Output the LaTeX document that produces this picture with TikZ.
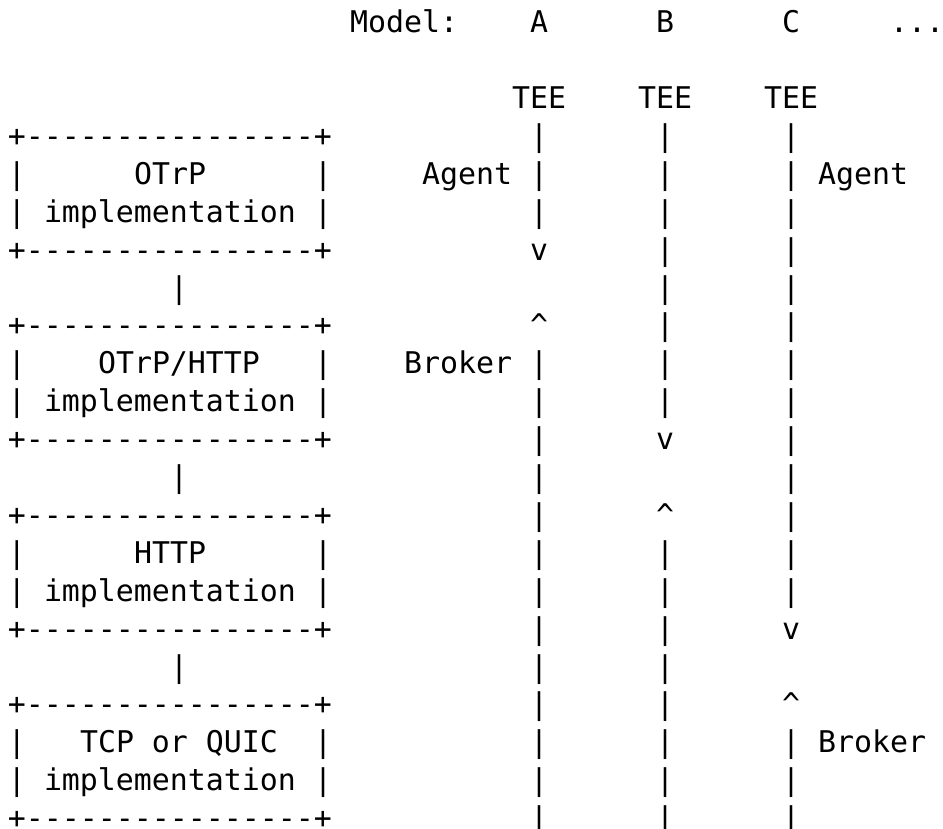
\documentclass[tikz,border=0pt]{standalone}
\usepackage{fontspec}
\setmonofont{DejaVu Sans Mono}
\newcommand\asciifont{\ttfamily\fontsize{29.9pt}{37.9pt}\selectfont}
\tikzset{
  cell/.style={anchor=base west, inner sep=0pt, outer sep=0pt, font=\asciifont, text=black},
}
% place text chunk: name, column, row, text
\newcommand\cellat[4]{\node[cell] (#1) at ({8+18*#2}, {-32.7-37.9*#3}) {#4};}
\begin{document}
\begin{tikzpicture}[x=1pt,y=1pt]
\fill[white] (0,0) rectangle (943,-828);
\useasboundingbox (0,0) rectangle (943,-828);

% header
\cellat{model}{19}{0}{Model:}
\cellat{colA}{29}{0}{A}
\cellat{colB}{36}{0}{B}
\cellat{colC}{43}{0}{C}
\cellat{dots}{49}{0}{...}
\cellat{teeA}{28}{2}{TEE}
\cellat{teeB}{35}{2}{TEE}
\cellat{teeC}{42}{2}{TEE}

% boxes: top and bottom borders
\foreach \r in {3,8,13,18} {\cellat{top\r}{0}{\r}{+----------------+}}
\foreach \r in {6,11,16,21} {\cellat{bot\r}{0}{\r}{+----------------+}}
\foreach \r in {4,5,9,10,14,15,19,20} {
  \cellat{lb\r}{0}{\r}{|}
  \cellat{rb\r}{17}{\r}{|}
}
% box labels
\cellat{otrp}{7}{4}{OTrP}
\cellat{impl1}{2}{5}{implementation}
\cellat{otrphttp}{5}{9}{OTrP/HTTP}
\cellat{impl2}{2}{10}{implementation}
\cellat{http}{7}{14}{HTTP}
\cellat{impl3}{2}{15}{implementation}
\cellat{tcp}{4}{19}{TCP or QUIC}
\cellat{impl4}{2}{20}{implementation}

% connectors between boxes
\foreach \r in {7,12,17} {\cellat{link\r}{9}{\r}{|}}

% model A column
\foreach \r in {3,4,5,9,10,11,12,13,14,15,16,17,18,19,20,21} {\cellat{a\r}{29}{\r}{|}}
\cellat{av}{29}{6}{v}
\cellat{au}{29}{8}{\textasciicircum}
% model B column
\foreach \r in {3,4,5,6,7,8,9,10,14,15,16,17,18,19,20,21} {\cellat{b\r}{36}{\r}{|}}
\cellat{bv}{36}{11}{v}
\cellat{bu}{36}{13}{\textasciicircum}
% model C column
\foreach \r in {3,4,5,6,7,8,9,10,11,12,13,14,15,19,20,21} {\cellat{c\r}{43}{\r}{|}}
\cellat{cv}{43}{16}{v}
\cellat{cu}{43}{18}{\textasciicircum}

% role labels
\cellat{agentA}{23}{4}{Agent}
\cellat{brokerA}{22}{9}{Broker}
\cellat{agentC}{45}{4}{Agent}
\cellat{brokerC}{45}{19}{Broker}
\end{tikzpicture}
\end{document}
